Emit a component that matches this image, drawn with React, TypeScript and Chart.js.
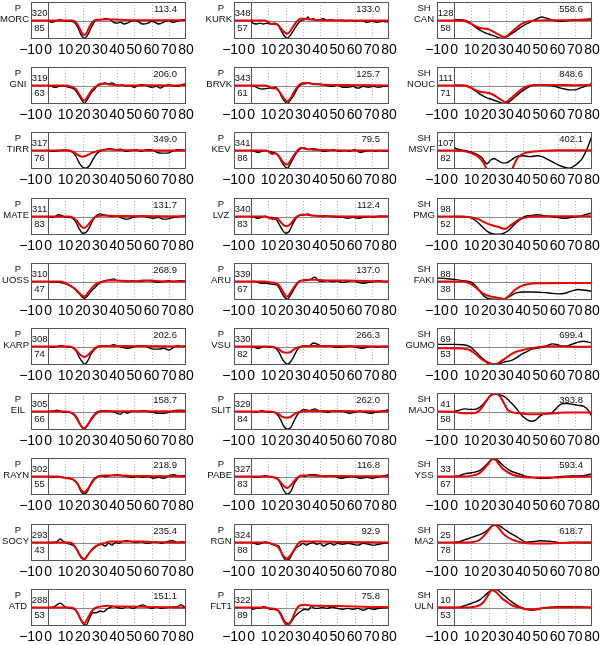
import React, { useEffect, useRef } from "react";
import { Chart, registerables } from "chart.js";

Chart.register(...registerables);

type Pt = [number, number];

// ---------- data ----------
const xTicks = [-10, 0, 10, 20, 30, 40, 50, 60, 70, 80];

const phases = [
  "P", "P", "P", "P", "P", "P", "P", "P", "P", "P",
  "P", "P", "P", "P", "P", "P", "P", "P", "P", "P",
  "SH", "SH", "SH", "SH", "SH", "SH", "SH", "SH", "SH", "SH",
];
const stations = [
  "MORC", "GNI", "TIRR", "MATE", "UOSS", "KARP", "EIL", "RAYN", "SOCY", "ATD",
  "KURK", "BRVK", "KEV", "LVZ", "ARU", "VSU", "SLIT", "PABE", "RGN", "FLT1",
  "CAN", "NOUC", "MSVF", "PMG", "FAKI", "GUMO", "MAJO", "YSS", "MA2", "ULN",
];
const azimuths = [
  "320", "319", "317", "311", "310", "308", "305", "302", "293", "288",
  "348", "343", "341", "340", "339", "330", "329", "327", "324", "322",
  "128", "111", "107", "98", "88", "69", "41", "33", "25", "10",
];
const distances = [
  "85", "63", "76", "83", "47", "74", "66", "55", "43", "53",
  "57", "61", "86", "83", "67", "82", "84", "83", "88", "89",
  "58", "71", "82", "52", "38", "53", "58", "67", "78", "53",
];
const amplitudes = [
  "113.4", "206.0", "349.0", "131.7", "268.9", "202.6", "158.7", "218.9", "235.4", "151.1",
  "133.0", "125.7", "79.5", "112.4", "137.0", "266.3", "262.0", "116.8", "92.9", "75.8",
  "558.6", "848.6", "402.1", "", "", "699.4", "393.8", "593.4", "618.7", "",
];

// observed (black) and synthetic (red) traces, [time s, normalised amplitude]
const MORC_obs: Pt[] = [[0,0],[2,-0.1],[4,-0.05],[7,0.05],[10,-0.05],[13,-0.05],[15,-0.1],[17,-0.35],[19,-0.8],[21,-1],[23,-0.8],[25,-0.4],[27,-0.05],[29,0.05],[31,0.05],[33,0.1],[36,0.05],[38,-0.1],[40,-0.15],[42,-0.1],[44,-0.2],[46,-0.15],[48,-0.05],[50,0],[52,-0.05],[55,-0.2],[58,-0.15],[60,-0.05],[62,-0.1],[64,-0.2],[66,-0.15],[68,-0.05],[70,0],[72,-0.1],[75,-0.05],[78,0.05],[80,0.05]];
const MORC_syn: Pt[] = [[-10,0],[14,0],[16,-0.1],[18,-0.4],[20,-0.78],[21,-0.82],[22,-0.75],[24,-0.35],[26,-0.05],[28,0.03],[32,0.05],[40,0.05],[50,0.02],[80,0.02]];
const GNI_obs: Pt[] = [[0,0],[2,-0.05],[4,-0.1],[6,-0.05],[8,0],[10,-0.05],[12,-0.1],[14,-0.15],[16,-0.3],[18,-0.6],[20,-0.9],[21,-1],[23,-0.75],[25,-0.4],[27,-0.2],[29,0.05],[31,0.1],[33,0.15],[35,0.1],[37,0.15],[39,0.05],[41,0],[43,0.05],[45,-0.05],[47,0],[50,-0.1],[52,0],[55,0.05],[57,0],[60,-0.1],[63,-0.05],[65,-0.15],[67,-0.05],[70,0.05],[72,0],[75,-0.05],[78,0.05],[80,0.1]];
const GNI_syn: Pt[] = [[-10,0],[10,0],[13,-0.05],[16,-0.2],[18,-0.5],[20,-0.8],[21,-0.85],[23,-0.6],[25,-0.3],[27,-0.1],[30,0.05],[33,0.1],[36,0.05],[40,0.02],[50,0],[60,0.02],[70,0],[80,0.03]];
const TIRR_obs: Pt[] = [[0,0],[3,-0.05],[6,0],[9,0.03],[12,0],[14,-0.1],[16,-0.3],[18,-0.7],[20,-0.95],[22,-1],[24,-0.85],[26,-0.5],[28,-0.2],[30,-0.05],[33,0.05],[36,0.1],[39,0.05],[42,0.08],[45,-0.05],[48,0],[51,0.05],[54,-0.05],[57,0.05],[60,0.05],[63,-0.1],[66,-0.15],[69,-0.15],[72,-0.05],[75,0.05],[78,0.03],[80,0]];
const TIRR_syn: Pt[] = [[-10,0],[12,0],[15,-0.1],[18,-0.3],[20,-0.35],[22,-0.3],[25,-0.15],[28,-0.05],[30,0],[35,0.05],[40,0.03],[80,0]];
const MATE_obs: Pt[] = [[0,0],[3,-0.05],[6,0.1],[8,0.05],[10,-0.05],[12,-0.05],[14,-0.1],[16,-0.3],[18,-0.7],[20,-0.95],[22,-0.9],[24,-0.6],[26,-0.2],[28,0.05],[30,0.15],[32,0.1],[34,0.05],[37,0],[40,0.03],[43,-0.1],[46,-0.15],[49,-0.05],[52,0],[55,0.03],[58,-0.05],[61,-0.1],[64,-0.05],[67,-0.15],[70,-0.12],[73,-0.05],[76,0],[80,0.05]];
const MATE_syn: Pt[] = [[-10,0],[12,0],[15,-0.1],[17,-0.3],[19,-0.55],[21,-0.65],[23,-0.5],[25,-0.25],[27,-0.05],[29,0.02],[32,0.05],[40,0.03],[80,0]];
const UOSS_obs: Pt[] = [[0,0],[3,-0.05],[6,-0.05],[9,-0.1],[12,-0.2],[15,-0.4],[18,-0.7],[20,-0.9],[21,-0.95],[23,-0.8],[25,-0.55],[27,-0.35],[29,-0.15],[31,-0.03],[33,0.05],[36,0.1],[38,0.15],[40,0.05],[43,0.05],[46,0],[49,0.05],[52,0],[55,0.02],[58,0.05],[61,0],[64,-0.05],[67,0],[70,0.05],[73,0],[76,0.05],[80,0.03]];
const UOSS_syn: Pt[] = [[-10,0],[7,0],[10,-0.1],[13,-0.25],[16,-0.45],[18,-0.65],[20,-0.82],[21,-0.85],[23,-0.65],[25,-0.4],[27,-0.2],[29,-0.08],[32,0],[35,0.05],[40,0.05],[50,0.02],[55,0.05],[60,0.05],[65,0.02],[80,0]];
const KARP_obs: Pt[] = [[0,0],[3,-0.05],[6,0.02],[8,0.05],[10,0],[12,-0.05],[14,-0.05],[16,-0.2],[18,-0.6],[20,-0.9],[21,-1],[23,-0.8],[25,-0.4],[27,-0.15],[29,0],[32,0.05],[35,0.03],[38,0.1],[40,0.05],[43,-0.05],[46,-0.1],[49,-0.05],[52,0.05],[55,0.05],[58,-0.05],[61,-0.15],[64,-0.15],[67,-0.1],[70,-0.2],[72,-0.1],[75,0.05],[78,0],[80,0.05]];
const KARP_syn: Pt[] = [[-10,0],[12,0],[14,-0.05],[17,-0.3],[19,-0.5],[21,-0.6],[23,-0.5],[25,-0.3],[27,-0.1],[29,0],[32,0.03],[80,0]];
const EIL_obs: Pt[] = [[0,0],[3,0.03],[5,0.08],[7,0.02],[9,-0.05],[12,-0.05],[15,-0.15],[17,-0.4],[19,-0.8],[21,-1],[23,-0.75],[25,-0.4],[27,-0.15],[29,0],[32,0.05],[35,0.05],[37,0],[40,-0.1],[42,-0.15],[44,0],[46,-0.1],[49,0.02],[52,0],[55,0.05],[58,0],[61,-0.05],[64,-0.1],[67,-0.1],[70,-0.05],[73,0.05],[76,0.08],[80,0.05]];
const EIL_syn: Pt[] = [[-10,0],[10,0],[13,-0.05],[16,-0.3],[18,-0.65],[20,-0.92],[21,-0.95],[23,-0.75],[25,-0.45],[27,-0.2],[29,-0.05],[32,0.02],[40,0.02],[80,0]];
const RAYN_obs: Pt[] = [[0,0],[3,-0.03],[6,0],[9,-0.05],[12,-0.1],[15,-0.2],[17,-0.4],[19,-0.85],[21,-1],[23,-0.8],[25,-0.35],[27,-0.1],[30,0.05],[33,0],[36,0.05],[40,0.1],[43,0.05],[46,0],[49,-0.05],[52,0],[55,-0.05],[58,0],[61,-0.1],[64,-0.05],[67,-0.1],[70,0.05],[73,0.1],[76,0.03],[80,0.05]];
const RAYN_syn: Pt[] = [[-10,0],[5,0],[8,-0.05],[11,-0.1],[14,-0.15],[17,-0.4],[19,-0.75],[21,-0.9],[23,-0.7],[25,-0.4],[27,-0.15],[29,-0.02],[32,0.05],[40,0.05],[50,0.03],[80,0]];
const SOCY_obs: Pt[] = [[0,0],[3,0],[5,0.05],[7,0.2],[9,0.05],[11,-0.05],[13,-0.1],[15,-0.2],[17,-0.45],[19,-0.85],[21,-0.95],[23,-0.7],[25,-0.45],[27,-0.3],[29,-0.15],[31,-0.1],[33,-0.2],[35,-0.05],[37,-0.15],[39,0],[41,-0.05],[43,0.05],[46,0.1],[48,0.05],[51,0],[54,0.05],[57,-0.05],[60,0],[63,0.03],[66,-0.05],[69,0.05],[72,0.1],[75,0],[78,0.05],[80,0]];
const SOCY_syn: Pt[] = [[-10,0],[12,0],[14,-0.05],[16,-0.3],[18,-0.65],[20,-0.9],[21,-0.95],[23,-0.7],[25,-0.45],[27,-0.25],[30,-0.1],[33,-0.02],[36,0.05],[45,0.05],[55,0.05],[65,0.02],[80,0]];
const ATD_obs: Pt[] = [[0,0],[3,0.02],[5,0.15],[7,0.25],[9,0.1],[11,0],[13,-0.05],[16,-0.15],[18,-0.5],[20,-0.9],[22,-1],[24,-0.6],[26,-0.3],[28,-0.3],[30,-0.2],[32,-0.25],[34,-0.1],[36,0],[38,0.05],[40,0],[43,-0.05],[46,0.05],[49,-0.05],[52,0.05],[55,0.15],[57,0.05],[60,-0.05],[63,0.02],[66,-0.05],[69,0],[72,0.02],[75,0.05],[77,0.15],[79,0.05],[80,0]];
const ATD_syn: Pt[] = [[-10,0],[12,0],[15,-0.05],[17,-0.3],[19,-0.7],[21,-0.9],[23,-0.6],[25,-0.25],[27,-0.05],[30,0.05],[35,0.1],[40,0.05],[45,0.05],[80,0]];

const KURK_obs: Pt[] = [[0,0],[1,-0.15],[3,-0.2],[5,-0.15],[7,-0.2],[9,-0.15],[11,-0.2],[13,-0.15],[15,-0.2],[17,-0.5],[19,-0.85],[21,-1],[23,-0.8],[25,-0.5],[27,-0.2],[29,0],[31,0.05],[32,0.1],[33,0.2],[34,0.05],[36,0.1],[38,0],[40,0.05],[42,0.1],[44,0],[46,0.05],[49,0],[52,0.02],[55,-0.02],[58,0],[61,-0.05],[64,0],[67,-0.1],[70,-0.05],[73,-0.1],[76,-0.05],[80,-0.1]];
const KURK_syn: Pt[] = [[-10,0],[8,0],[10,-0.1],[12,-0.2],[14,-0.2],[16,-0.3],[18,-0.55],[20,-0.72],[21,-0.75],[23,-0.55],[25,-0.25],[27,0],[29,0.1],[31,0.1],[34,0.05],[40,0.02],[80,0]];
const BRVK_obs: Pt[] = [[0,0],[2,-0.05],[4,-0.15],[7,-0.2],[10,-0.15],[12,-0.15],[14,-0.1],[16,-0.3],[18,-0.7],[20,-0.95],[21,-1],[23,-0.8],[25,-0.5],[27,-0.15],[29,0.05],[31,0.1],[34,0.15],[36,0.05],[38,0.1],[41,0.05],[44,0],[47,-0.05],[50,0.02],[53,-0.1],[56,-0.1],[59,-0.05],[62,-0.15],[65,-0.05],[68,-0.1],[71,-0.05],[74,-0.1],[77,-0.05],[80,-0.05]];
const BRVK_syn: Pt[] = [[-10,0],[8,0],[10,-0.05],[12,-0.15],[14,-0.15],[16,-0.3],[18,-0.6],[20,-0.85],[21,-0.9],[23,-0.7],[25,-0.35],[27,-0.05],[29,0.1],[32,0.15],[35,0.1],[40,0.05],[50,0.03],[80,0]];
const KEV_obs: Pt[] = [[0,0],[2,-0.05],[4,-0.1],[6,-0.05],[8,0],[10,-0.05],[12,-0.1],[14,-0.15],[16,-0.35],[18,-0.7],[20,-0.95],[21,-1],[23,-0.7],[25,-0.35],[27,-0.05],[29,0.1],[31,0.15],[33,0.05],[36,0.1],[39,0.05],[42,-0.05],[45,0],[48,0.05],[51,-0.05],[54,0],[57,-0.05],[60,0.05],[63,-0.1],[66,-0.05],[69,0],[72,-0.05],[75,0],[78,-0.05],[80,0]];
const KEV_syn: Pt[] = [[-10,0],[8,0],[10,-0.05],[12,-0.2],[14,-0.15],[16,-0.3],[18,-0.6],[20,-0.78],[21,-0.8],[23,-0.55],[25,-0.25],[27,0.02],[29,0.15],[31,0.1],[35,0.05],[45,0.02],[80,0]];
const LVZ_obs: Pt[] = [[0,0],[2,-0.05],[4,-0.1],[6,-0.05],[8,0.02],[10,-0.05],[12,-0.05],[14,-0.1],[16,-0.4],[18,-0.75],[20,-0.95],[22,-0.85],[24,-0.45],[26,-0.1],[28,0.05],[31,0.1],[33,0.15],[35,0.05],[38,0.05],[41,0],[44,0.02],[47,0],[50,-0.05],[53,-0.05],[56,-0.1],[59,-0.05],[62,-0.1],[65,-0.05],[68,0],[71,-0.05],[74,0.02],[77,0.02],[80,0]];
const LVZ_syn: Pt[] = [[-10,0],[8,0],[11,-0.1],[13,-0.15],[15,-0.1],[17,-0.3],[19,-0.5],[21,-0.55],[23,-0.4],[25,-0.15],[27,0.02],[29,0.1],[32,0.1],[36,0.05],[45,0.02],[80,0]];
const ARU_obs: Pt[] = [[0,0],[2,0],[4,-0.05],[6,-0.1],[9,-0.1],[12,-0.15],[15,-0.2],[17,-0.5],[19,-0.85],[21,-1],[23,-0.75],[25,-0.4],[27,-0.1],[29,0.05],[32,0.05],[35,0.15],[37,0.25],[39,0.05],[41,0],[44,0.05],[47,0],[50,0.02],[53,-0.05],[56,0],[59,0.05],[62,-0.05],[65,-0.1],[68,-0.05],[71,0],[74,0.05],[77,0],[80,0]];
const ARU_syn: Pt[] = [[-10,0],[8,0],[11,-0.05],[14,-0.1],[16,-0.2],[18,-0.5],[20,-0.8],[21,-0.85],[23,-0.6],[25,-0.3],[27,-0.05],[29,0.05],[32,0.1],[38,0.1],[45,0.05],[55,0.05],[65,0.03],[80,0]];
const VSU_obs: Pt[] = [[0,0],[2,-0.05],[4,-0.1],[6,-0.05],[8,0],[10,-0.05],[12,-0.05],[14,-0.1],[16,-0.3],[18,-0.7],[20,-0.95],[21,-1],[23,-0.85],[25,-0.5],[27,-0.15],[29,0],[31,0.05],[34,0.05],[36,0.2],[38,0.15],[40,0.05],[43,0],[46,0.03],[49,-0.05],[52,-0.05],[55,0],[58,0.02],[61,-0.05],[64,-0.1],[67,-0.05],[70,0],[73,-0.05],[76,0],[80,0]];
const VSU_syn: Pt[] = [[-10,0],[10,0],[13,-0.03],[16,-0.15],[18,-0.3],[21,-0.35],[23,-0.3],[25,-0.15],[27,-0.05],[30,0.02],[35,0.03],[80,0]];
const SLIT_obs: Pt[] = [[0,0],[3,-0.05],[6,0.05],[8,0],[10,-0.05],[13,-0.05],[15,-0.15],[17,-0.45],[19,-0.85],[21,-1],[23,-0.9],[25,-0.5],[27,-0.15],[29,0.05],[31,0.1],[34,0.05],[37,0.15],[39,0.05],[42,0],[45,-0.05],[48,0.05],[51,0.05],[54,0],[57,-0.1],[60,-0.05],[63,0.02],[66,-0.05],[69,-0.1],[72,-0.05],[75,0],[78,0.05],[80,0.1]];
const SLIT_syn: Pt[] = [[-10,0],[10,0],[13,-0.03],[16,-0.15],[18,-0.3],[21,-0.35],[23,-0.3],[25,-0.15],[27,-0.05],[30,0.02],[35,0.03],[80,0]];
const PABE_obs: Pt[] = [[0,0],[3,-0.05],[6,0],[8,0.05],[10,0],[13,-0.05],[15,-0.1],[17,-0.4],[19,-0.8],[21,-1],[23,-0.85],[25,-0.4],[27,-0.1],[29,0.05],[31,0],[34,0.1],[37,0.1],[40,0.05],[43,0],[46,0.03],[49,0],[52,-0.1],[55,-0.05],[58,0],[61,-0.05],[64,-0.1],[67,-0.05],[70,-0.1],[73,-0.05],[76,0.02],[78,0.05],[80,0.1]];
const PABE_syn: Pt[] = [[-10,0],[10,0],[13,-0.05],[16,-0.2],[18,-0.45],[20,-0.62],[21,-0.65],[23,-0.5],[25,-0.25],[27,-0.05],[29,0.05],[32,0.05],[40,0.03],[60,0.02],[80,0]];
const RGN_obs: Pt[] = [[0,0],[2,-0.05],[4,-0.1],[6,-0.05],[8,0.03],[10,0],[12,-0.1],[14,-0.15],[16,-0.2],[18,-0.7],[20,-1],[22,-0.95],[24,-0.6],[26,-0.3],[28,-0.2],[30,-0.05],[32,-0.15],[34,-0.05],[36,0],[38,-0.1],[40,-0.05],[42,-0.2],[44,-0.1],[46,-0.05],[48,-0.15],[50,-0.05],[53,-0.1],[56,-0.05],[59,-0.1],[62,-0.15],[65,-0.05],[68,-0.1],[71,-0.15],[74,-0.1],[77,-0.05],[80,0]];
const RGN_syn: Pt[] = [[-10,0],[8,0],[11,-0.05],[14,-0.15],[16,-0.3],[18,-0.65],[20,-0.88],[21,-0.9],[23,-0.7],[25,-0.4],[27,-0.1],[29,0.05],[32,0.05],[40,0.05],[50,0.03],[80,0]];
const FLT1_obs: Pt[] = [[0,0],[1,-0.1],[3,-0.05],[5,-0.05],[7,0.05],[9,0],[11,-0.1],[13,-0.1],[15,-0.15],[17,-0.3],[19,-0.7],[21,-0.9],[23,-0.85],[25,-0.55],[27,-0.35],[29,-0.2],[31,-0.1],[33,-0.15],[35,0.05],[37,-0.05],[39,-0.05],[41,0],[44,-0.05],[47,0.02],[50,-0.05],[53,-0.1],[56,-0.05],[59,-0.1],[62,-0.05],[65,-0.15],[68,-0.05],[71,-0.1],[74,-0.05],[77,-0.02],[80,0]];
const FLT1_syn: Pt[] = [[-10,0],[8,0],[11,-0.05],[14,-0.1],[16,-0.2],[18,-0.6],[20,-0.95],[21,-1],[22,-0.95],[24,-0.6],[26,-0.15],[28,0.1],[31,0.15],[35,0.1],[40,0.1],[50,0.08],[60,0.05],[70,0.03],[80,0.02]];

const CAN_obs: Pt[] = [[0,0.05],[3,0.05],[6,0.02],[9,-0.1],[12,-0.35],[15,-0.55],[18,-0.7],[21,-0.8],[24,-0.9],[27,-1],[29,-1],[31,-0.9],[34,-0.7],[37,-0.5],[40,-0.3],[43,-0.15],[46,0],[49,0.15],[51,0.2],[53,0.15],[56,0.05],[59,-0.03],[62,-0.05],[65,-0.02],[68,0.02],[72,0.05],[76,0.08],[80,0.1]];
const CAN_syn: Pt[] = [[-10,0],[0,0],[5,-0.02],[8,-0.1],[11,-0.25],[14,-0.4],[17,-0.45],[20,-0.5],[23,-0.65],[26,-0.8],[29,-0.95],[31,-0.85],[34,-0.6],[37,-0.35],[40,-0.15],[43,-0.05],[47,0],[55,0.02],[65,0.02],[80,0.03]];
const NOUC_obs: Pt[] = [[0,0.02],[4,0.02],[7,0],[10,-0.15],[13,-0.35],[16,-0.55],[19,-0.7],[22,-0.8],[25,-0.9],[28,-1],[30,-1],[33,-0.85],[36,-0.6],[39,-0.35],[42,-0.15],[45,0],[48,0.05],[52,0.05],[56,0],[60,-0.1],[64,-0.2],[67,-0.25],[70,-0.25],[73,-0.15],[76,-0.05],[80,0.1]];
const NOUC_syn: Pt[] = [[-10,0],[0,0],[6,-0.02],[9,-0.1],[12,-0.25],[15,-0.35],[18,-0.4],[21,-0.45],[24,-0.6],[27,-0.8],[30,-0.95],[32,-0.8],[35,-0.55],[38,-0.3],[41,-0.1],[44,0],[50,0.03],[60,0.03],[70,0.02],[80,0.03]];
const MSVF_obs: Pt[] = [[0,0.15],[3,0.05],[6,0],[10,-0.1],[13,-0.2],[16,-0.4],[19,-0.75],[21,-0.55],[23,-0.45],[25,-0.55],[28,-0.7],[30,-0.7],[33,-0.55],[36,-0.35],[40,-0.3],[44,-0.35],[48,-0.3],[51,-0.35],[55,-0.55],[60,-0.8],[64,-0.95],[67,-1],[70,-0.85],[74,-0.5],[76,-0.15],[78,0.3],[80,0.85]];
const MSVF_syn: Pt[] = [[-10,0],[0,0],[6,-0.05],[10,-0.15],[14,-0.35],[17,-0.7],[19,-1.1],[21,-1.5],[27,-1.8],[32,-1.5],[34,-1.0],[36,-0.55],[38,-0.3],[41,-0.15],[44,-0.08],[50,-0.03],[60,0.02],[80,0.02]];
const PMG_obs: Pt[] = [[0,0],[5,0],[9,-0.05],[12,-0.2],[15,-0.45],[18,-0.75],[21,-0.95],[24,-1],[27,-1],[29,-0.95],[32,-0.75],[35,-0.45],[38,-0.2],[41,0],[44,0.05],[48,0.1],[52,0.05],[56,0],[60,-0.05],[64,-0.1],[68,-0.05],[72,0],[76,0.1],[80,0.2]];
const PMG_syn: Pt[] = [[-10,0],[0,0],[10,-0.05],[14,-0.15],[18,-0.35],[22,-0.5],[26,-0.6],[28,-0.68],[30,-0.7],[32,-0.55],[35,-0.35],[38,-0.15],[42,-0.05],[46,0],[55,0.02],[80,0.02]];
const FAKI_obs: Pt[] = [[-10,0.2],[-5,0.17],[0,0.12],[5,0.05],[10,-0.05],[13,-0.3],[16,-0.7],[19,-0.95],[22,-1],[25,-1],[28,-1],[30,-0.95],[33,-0.8],[36,-0.65],[40,-0.6],[45,-0.6],[50,-0.62],[55,-0.65],[60,-0.7],[65,-0.65],[68,-0.55],[72,-0.45],[76,-0.5],[80,-0.55]];
const FAKI_syn: Pt[] = [[-10,0],[5,0],[9,-0.1],[12,-0.3],[15,-0.55],[18,-0.75],[21,-0.85],[24,-0.9],[27,-0.95],[29,-1],[32,-0.8],[35,-0.5],[38,-0.3],[41,-0.18],[45,-0.12],[50,-0.1],[60,-0.08],[70,-0.08],[80,-0.08]];
const GUMO_obs: Pt[] = [[-10,0.12],[0,0.12],[5,0.1],[9,0],[12,-0.25],[15,-0.55],[18,-0.8],[21,-0.95],[24,-1],[27,-0.95],[30,-0.85],[33,-0.8],[36,-0.65],[39,-0.45],[42,-0.3],[45,-0.15],[48,-0.1],[51,-0.05],[54,0.05],[57,0.15],[60,0.1],[63,0.02],[66,0.05],[69,0.15],[72,0.25],[75,0.3],[78,0.25],[80,0.2]];
const GUMO_syn: Pt[] = [[-10,-0.1],[0,-0.1],[5,-0.12],[9,-0.2],[12,-0.4],[15,-0.65],[18,-0.85],[21,-1],[24,-1],[27,-0.85],[30,-0.65],[33,-0.45],[36,-0.3],[40,-0.2],[44,-0.1],[48,-0.05],[52,0],[60,0.02],[70,-0.02],[80,0]];
const MAJO_obs: Pt[] = [[0,0],[3,0.08],[6,0.15],[9,0.12],[12,0.12],[15,0.25],[18,0.55],[21,0.9],[23,1],[26,0.95],[29,0.85],[32,0.6],[35,0.3],[37,0.05],[40,-0.3],[43,-0.5],[45,-0.55],[47,-0.5],[50,-0.25],[53,-0.12],[56,-0.1],[58,0.05],[61,0.35],[63,0.45],[66,0.45],[69,0.4],[72,0.35],[75,0.3],[78,0.05],[80,-0.3]];
const MAJO_syn: Pt[] = [[-10,0],[0,-0.02],[5,-0.1],[10,-0.1],[13,-0.05],[15,0.1],[17,0.35],[19,0.65],[21,0.9],[23,1],[25,1],[27,0.8],[29,0.45],[31,0.1],[34,-0.05],[38,-0.1],[43,-0.15],[50,-0.15],[55,-0.12],[60,-0.08],[65,-0.05],[70,-0.05],[80,-0.05]];
const YSS_obs: Pt[] = [[0,0],[3,0.05],[6,0.15],[9,0.2],[12,0.25],[15,0.35],[18,0.6],[21,0.9],[23,1],[25,0.95],[27,0.75],[30,0.5],[33,0.3],[36,0.2],[39,0.1],[42,0],[46,-0.05],[50,-0.1],[54,-0.1],[58,-0.05],[62,0],[66,0.02],[70,0.03],[75,0.05],[80,0.15]];
const YSS_syn: Pt[] = [[-10,0],[5,0],[10,0.05],[14,0.15],[17,0.4],[20,0.75],[22,1],[24,0.95],[26,0.7],[28,0.45],[31,0.25],[34,0.1],[38,0],[42,-0.05],[50,-0.05],[60,-0.05],[70,-0.02],[80,0]];
const MA2_obs: Pt[] = [[0,0],[3,0.05],[6,0.15],[9,0.25],[12,0.35],[15,0.45],[18,0.6],[21,0.85],[23,0.98],[25,1],[27,0.9],[30,0.7],[33,0.5],[36,0.35],[39,0.15],[42,0.02],[46,0.05],[50,0.1],[54,0.08],[58,0.05],[62,-0.02],[66,0],[70,0.02],[75,0],[80,0]];
const MA2_syn: Pt[] = [[-10,0],[5,0],[10,0.02],[14,0.1],[17,0.35],[20,0.7],[22,0.95],[24,1],[26,0.8],[28,0.55],[31,0.3],[34,0.15],[37,0.05],[40,-0.02],[45,-0.05],[55,-0.05],[65,-0.02],[80,0]];
const ULN_obs: Pt[] = [[-10,0],[0,0],[3,0.02],[6,0.1],[9,0.2],[12,0.3],[15,0.45],[18,0.7],[21,0.95],[23,1.03],[25,1],[27,0.85],[30,0.6],[33,0.35],[36,0.15],[39,0],[42,-0.1],[45,-0.15],[48,-0.12],[51,-0.05],[55,0],[60,0.05],[65,0.05],[70,0.05],[75,0.02],[80,0]];
const ULN_syn: Pt[] = [[-10,0],[5,0],[10,0.02],[14,0.1],[17,0.3],[19,0.6],[21,0.9],[22,1],[24,0.9],[26,0.7],[28,0.5],[31,0.3],[34,0.1],[38,0],[42,-0.1],[46,-0.1],[50,-0.05],[55,0],[65,0.02],[80,0]];

const observed: Pt[][] = [
  MORC_obs, GNI_obs, TIRR_obs, MATE_obs, UOSS_obs, KARP_obs, EIL_obs, RAYN_obs, SOCY_obs, ATD_obs,
  KURK_obs, BRVK_obs, KEV_obs, LVZ_obs, ARU_obs, VSU_obs, SLIT_obs, PABE_obs, RGN_obs, FLT1_obs,
  CAN_obs, NOUC_obs, MSVF_obs, PMG_obs, FAKI_obs, GUMO_obs, MAJO_obs, YSS_obs, MA2_obs, ULN_obs,
];
const synthetic: Pt[][] = [
  MORC_syn, GNI_syn, TIRR_syn, MATE_syn, UOSS_syn, KARP_syn, EIL_syn, RAYN_syn, SOCY_syn, ATD_syn,
  KURK_syn, BRVK_syn, KEV_syn, LVZ_syn, ARU_syn, VSU_syn, SLIT_syn, PABE_syn, RGN_syn, FLT1_syn,
  CAN_syn, NOUC_syn, MSVF_syn, PMG_syn, FAKI_syn, GUMO_syn, MAJO_syn, YSS_syn, MA2_syn, ULN_syn,
];

// ---------- layout ----------
const CANVAS_W = 203;
const CANVAS_H = 65;
const COL_X = [0, 203, 406];
const ROW_PITCH = 65.2;
const FONT = '"Liberation Sans", Arial, Helvetica, sans-serif';

const decorPlugin = {
  id: "decor",
  beforeDatasetsDraw(chart: any) {
    const { ctx, chartArea: a, scales } = chart;
    const x = scales.x, y = scales.y;
    ctx.save();
    ctx.lineWidth = 1;
    ctx.strokeStyle = "#b8b8b8";
    ctx.setLineDash([1, 2]);
    for (const t of xTicks) {
      if (t <= 0 || t >= 80) continue;
      const px = Math.round(x.getPixelForValue(t)) + 0.5;
      ctx.beginPath(); ctx.moveTo(px, a.top); ctx.lineTo(px, a.bottom); ctx.stroke();
    }
    ctx.setLineDash([]);
    ctx.strokeStyle = "#8a8a8a";
    const py = Math.round(y.getPixelForValue(0)) + 0.5;
    ctx.beginPath(); ctx.moveTo(a.left, py); ctx.lineTo(a.right, py); ctx.stroke();
    ctx.strokeStyle = "#555";
    const p0 = Math.round(x.getPixelForValue(0)) + 0.5;
    ctx.beginPath(); ctx.moveTo(p0, a.top); ctx.lineTo(p0, a.bottom); ctx.stroke();
    ctx.restore();
  },
  afterDatasetsDraw(chart: any, _args: any, opts: any) {
    const { ctx, chartArea: a, scales } = chart;
    const x = scales.x;
    ctx.save();
    ctx.strokeStyle = "#555";
    ctx.lineWidth = 1;
    ctx.strokeRect(Math.round(a.left) + 0.5, Math.round(a.top) + 0.5, Math.round(a.width) - 1, Math.round(a.height) - 1);
    ctx.fillStyle = "#111";
    ctx.font = "9.5px " + FONT;
    ctx.textBaseline = "middle";
    ctx.textAlign = "center";
    const center = (s: string) => {
      const w = ctx.measureText(s).width;
      return Math.min(a.left - 13, a.left - 2 - w / 2);
    };
    ctx.fillText(opts.phase, center(opts.phase), a.top + 6);
    ctx.fillText(opts.station, center(opts.station), a.top + 17);
    const cx = x.getPixelForValue(-5);
    ctx.fillText(opts.az, cx, a.top + 11);
    ctx.fillText(opts.dist, cx, a.top + 26);
    if (opts.amp) {
      ctx.textAlign = "right";
      ctx.fillText(opts.amp, a.right - 9, a.top + 7);
    }
    ctx.restore();
  },
};

function Panel({ idx }: { idx: number }) {
  const ref = useRef<HTMLCanvasElement | null>(null);
  useEffect(() => {
    const canvas = ref.current;
    if (!canvas) return;
    const chart = new Chart(canvas, {
      type: "line",
      data: {
        datasets: [
          {
            data: observed[idx].map(([t, v]) => ({ x: t, y: v })),
            borderColor: "#000",
            borderWidth: 1.4,
            pointRadius: 0,
            fill: false,
            cubicInterpolationMode: "monotone",
            order: 2,
          },
          {
            data: synthetic[idx].map(([t, v]) => ({ x: t, y: v })),
            borderColor: "#ee0000",
            borderWidth: 2,
            pointRadius: 0,
            fill: false,
            cubicInterpolationMode: "monotone",
            order: 1,
          },
        ],
      },
      options: {
        animation: false,
        responsive: false,
        devicePixelRatio: 1,
        events: [],
        layout: { padding: { left: 31, right: 17, top: 2, bottom: 0 } },
        plugins: {
          legend: { display: false },
          tooltip: { enabled: false },
          decor: {
            phase: phases[idx],
            station: stations[idx],
            az: azimuths[idx],
            dist: distances[idx],
            amp: amplitudes[idx],
          },
        } as any,
        scales: {
          x: {
            type: "linear",
            min: -10,
            max: 80,
            afterBuildTicks: (scale: any) => {
              scale.ticks = xTicks.map((value) => ({ value }));
            },
            afterFit: (scale: any) => {
              scale.height = 26;
            },
            grid: { display: false, drawTicks: false, tickLength: 0 },
            border: { display: false },
            ticks: {
              autoSkip: false,
              maxRotation: 0,
              minRotation: 0,
              padding: 3,
              color: "#000",
              font: { size: 14, family: FONT },
              callback: (v: any) => (Number(v) < 0 ? "\u2212" + Math.abs(Number(v)) : String(v)),
            },
          },
          y: { type: "linear", display: false, min: -1.05, max: 1.05 },
        },
      },
      plugins: [decorPlugin],
    } as any);
    return () => chart.destroy();
  }, [idx]);
  const col = Math.floor(idx / 10);
  const row = idx % 10;
  return (
    <canvas
      ref={ref}
      width={CANVAS_W}
      height={CANVAS_H}
      style={{
        position: "absolute",
        left: COL_X[col],
        top: Math.round(row * ROW_PITCH),
        width: CANVAS_W,
        height: CANVAS_H,
        display: "block",
      }}
    />
  );
}

export default function App() {
  return (
    <div style={{ position: "absolute", left: 0, top: 0, width: 600, height: 645, background: "#fff", overflow: "hidden" }}>
      {stations.map((_, i) => (
        <Panel key={i} idx={i} />
      ))}
    </div>
  );
}
